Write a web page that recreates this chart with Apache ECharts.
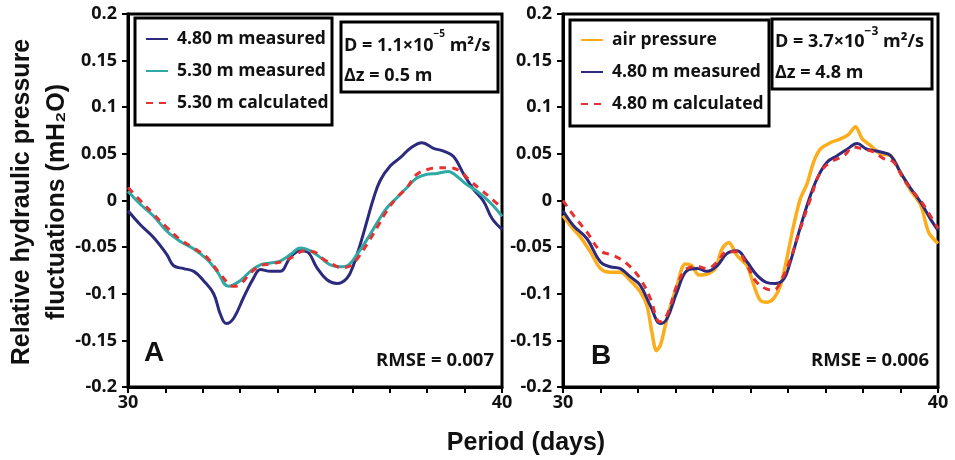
<!DOCTYPE html>
<html><head><meta charset="utf-8">
<script src="https://cdn.jsdelivr.net/npm/echarts@6/dist/echarts.min.js"></script>
<style>html,body{margin:0;padding:0;background:#fff}#c{width:955px;height:460px}</style>
</head><body><div id="c"></div>
<script>
// ---- Panel A data ----
var aDays480 = [30.00,30.33,30.69,31.04,31.22,31.49,31.76,32.02,32.29,32.47,32.63,32.83,33.09,33.36,33.54,33.81,34.07,34.34,34.61,34.79,35.05,35.32,35.59,35.86,36.03,36.21,36.39,36.57,36.75,37.01,37.28,37.55,37.86,38.17,38.44,38.71,38.98,39.24,39.51,39.73,40.00];
var aMeas480 = [-0.011,-0.026,-0.040,-0.058,-0.070,-0.073,-0.076,-0.086,-0.100,-0.122,-0.132,-0.126,-0.104,-0.083,-0.074,-0.076,-0.076,-0.061,-0.054,-0.055,-0.072,-0.085,-0.089,-0.083,-0.069,-0.047,-0.022,0.003,0.022,0.037,0.046,0.056,0.062,0.056,0.053,0.047,0.028,0.012,-0.001,-0.019,-0.031];
var aDays530 = [30.00,30.33,30.69,31.04,31.40,31.76,32.11,32.38,32.69,33.00,33.27,33.54,33.81,34.07,34.34,34.61,34.88,35.14,35.41,35.68,35.90,36.12,36.39,36.66,36.92,37.19,37.46,37.72,37.99,38.26,38.57,38.79,39.06,39.33,39.60,39.82,40.00];
var aMeas530 = [0.010,-0.004,-0.017,-0.033,-0.044,-0.052,-0.063,-0.076,-0.092,-0.086,-0.076,-0.069,-0.067,-0.065,-0.058,-0.051,-0.054,-0.061,-0.069,-0.071,-0.069,-0.058,-0.042,-0.024,-0.008,0.003,0.014,0.024,0.028,0.029,0.031,0.026,0.017,0.010,0.001,-0.008,-0.017];
var aDaysCalc = [30.00,30.33,30.69,31.04,31.40,31.76,32.11,32.47,32.83,33.00,33.27,33.54,33.81,34.16,34.43,34.70,34.96,35.23,35.50,35.68,35.95,36.12,36.39,36.66,36.92,37.19,37.46,37.72,37.99,38.26,38.62,38.89,39.15,39.42,39.69,40.00];
var aCalc530 = [0.014,0.000,-0.015,-0.029,-0.042,-0.051,-0.061,-0.079,-0.092,-0.090,-0.078,-0.070,-0.068,-0.065,-0.060,-0.054,-0.055,-0.063,-0.069,-0.072,-0.070,-0.063,-0.047,-0.029,-0.011,0.003,0.014,0.028,0.033,0.035,0.035,0.031,0.021,0.012,0.003,-0.008];

// ---- Panel B data ----
var bDaysAir = [30.00,30.20,30.46,30.73,31.00,31.26,31.53,31.80,32.06,32.24,32.37,32.49,32.60,32.77,33.04,33.26,33.44,33.62,33.84,34.06,34.24,34.42,34.64,34.91,35.09,35.26,35.44,35.62,35.80,35.97,36.15,36.33,36.51,36.68,36.86,37.13,37.40,37.62,37.80,37.98,38.20,38.47,38.74,39.00,39.27,39.54,39.75,40.00];
var bAir = [-0.016,-0.027,-0.039,-0.055,-0.073,-0.077,-0.077,-0.086,-0.098,-0.113,-0.141,-0.161,-0.155,-0.127,-0.091,-0.068,-0.070,-0.080,-0.079,-0.073,-0.052,-0.045,-0.059,-0.070,-0.091,-0.107,-0.109,-0.105,-0.091,-0.062,-0.027,0.002,0.018,0.041,0.055,0.062,0.066,0.071,0.079,0.066,0.059,0.050,0.048,0.030,0.011,-0.005,-0.034,-0.046];
var bDays480 = [30.00,30.28,30.64,31.00,31.26,31.53,31.80,32.06,32.33,32.60,32.77,33.04,33.31,33.58,33.84,34.11,34.37,34.64,34.91,35.17,35.44,35.66,35.89,36.06,36.24,36.51,36.77,37.04,37.31,37.58,37.84,38.11,38.47,38.74,39.00,39.27,39.54,39.80,40.00];
var bMeas480 = [-0.011,-0.027,-0.041,-0.066,-0.071,-0.073,-0.082,-0.091,-0.113,-0.132,-0.127,-0.098,-0.075,-0.073,-0.076,-0.070,-0.057,-0.054,-0.066,-0.080,-0.088,-0.089,-0.084,-0.066,-0.041,-0.005,0.023,0.041,0.048,0.055,0.061,0.055,0.052,0.048,0.030,0.013,-0.002,-0.020,-0.032];
var bDaysCalc = [30.00,30.28,30.64,31.00,31.35,31.71,32.06,32.33,32.58,32.77,33.04,33.31,33.58,33.84,34.11,34.37,34.64,34.91,35.17,35.44,35.62,35.84,36.06,36.33,36.60,36.86,37.13,37.49,37.75,38.02,38.28,38.55,38.82,39.08,39.35,39.62,40.00];
var bCalc480 = [0.000,-0.016,-0.034,-0.054,-0.059,-0.068,-0.084,-0.105,-0.130,-0.123,-0.091,-0.073,-0.071,-0.073,-0.066,-0.055,-0.055,-0.070,-0.088,-0.095,-0.096,-0.084,-0.063,-0.030,0.002,0.030,0.041,0.048,0.057,0.055,0.052,0.045,0.041,0.023,0.009,-0.005,-0.030];

var yTicks = [-0.2,-0.15,-0.1,-0.05,0,0.05,0.1,0.15,0.2];
var xLabels = [30, 40];

function pairs(xs, ys){ return xs.map(function(x,i){ return [x, ys[i]]; }); }

var C_NAVY = '#2c2a7c', C_TEAL = '#2fa9a5', C_RED = '#e5312f', C_ORANGE = '#fbad1b';
var FONT = '"Open Sans"';
var tickFont = {fontFamily:'Open Sans', fontWeight:'bold', fontSize:18, color:'#111'};

function xAxis(gi){
  return {type:'value', gridIndex:gi, min:30, max:40, interval:1,
    axisLine:{show:true, onZero:false, lineStyle:{color:'#000', width:3}},
    axisTick:{show:true, inside:false, length:6, lineStyle:{color:'#000', width:2}},
    splitLine:{show:false},
    axisLabel:Object.assign({margin:7, formatter:function(v){ return xLabels.indexOf(v)>=0 ? String(v) : ''; }}, tickFont)};
}
function yAxis(gi){
  return {type:'value', gridIndex:gi, min:-0.2, max:0.2, interval:0.05,
    axisLine:{show:true, onZero:false, lineStyle:{color:'#000', width:3}},
    axisTick:{show:true, inside:false, length:6, lineStyle:{color:'#000', width:2}},
    splitLine:{show:false},
    axisLabel:Object.assign({margin:11, formatter:function(v){ return String(+v.toFixed(2)); }}, tickFont)};
}
var legText = {fontFamily:'Open Sans', fontWeight:'bold', fontSize:17.5, color:'#111', padding:[0,0,0,4]};

var chart = echarts.init(document.getElementById('c'));
chart.setOption({
  animation:false,
  backgroundColor:'#fff',
  grid:[
    {left:128, top:14, width:374, height:373, show:true, borderColor:'#000', borderWidth:3, backgroundColor:'transparent'},
    {left:563, top:14, width:375, height:373, show:true, borderColor:'#000', borderWidth:3, backgroundColor:'transparent'}
  ],
  xAxis:[xAxis(0), xAxis(1)],
  yAxis:[yAxis(0), yAxis(1)],
  legend:[
    {orient:'vertical', left:140, top:25, itemWidth:22, itemHeight:10, itemGap:14, textStyle:legText,
     itemStyle:{opacity:0},
     data:['4.80 m measured','5.30 m measured','5.30 m calculated']},
    {orient:'vertical', left:575, top:26, itemWidth:22, itemHeight:10, itemGap:14, textStyle:legText,
     itemStyle:{opacity:0},
     data:['air pressure','4.80 m measured ','4.80 m calculated']}
  ],
  series:[
    {name:'4.80 m measured', type:'line', xAxisIndex:0, yAxisIndex:0, data:pairs(aDays480,aMeas480), smooth:0.4, symbol:'none', lineStyle:{color:C_NAVY, width:3}, itemStyle:{color:C_NAVY}},
    {name:'5.30 m measured', type:'line', xAxisIndex:0, yAxisIndex:0, data:pairs(aDays530,aMeas530), smooth:0.4, symbol:'none', lineStyle:{color:C_TEAL, width:3}, itemStyle:{color:C_TEAL}},
    {name:'5.30 m calculated', type:'line', xAxisIndex:0, yAxisIndex:0, data:pairs(aDaysCalc,aCalc530), smooth:0.4, symbol:'none', lineStyle:{color:C_RED, width:3, type:[7,6]}, itemStyle:{color:C_RED}},
    {name:'air pressure', type:'line', xAxisIndex:1, yAxisIndex:1, data:pairs(bDaysAir,bAir), smooth:0.3, symbol:'none', lineStyle:{color:C_ORANGE, width:3.5}, itemStyle:{color:C_ORANGE}},
    {name:'4.80 m measured ', type:'line', xAxisIndex:1, yAxisIndex:1, data:pairs(bDays480,bMeas480), smooth:0.4, symbol:'none', lineStyle:{color:C_NAVY, width:3}, itemStyle:{color:C_NAVY}},
    {name:'4.80 m calculated', type:'line', xAxisIndex:1, yAxisIndex:1, data:pairs(bDaysCalc,bCalc480), smooth:0.4, symbol:'none', lineStyle:{color:C_RED, width:3, type:[7,6]}, itemStyle:{color:C_RED}}
  ],
  graphic:[
    {type:'rect', shape:{x:135, y:18, width:197, height:107}, style:{fill:'transparent', stroke:'#000', lineWidth:3}, z:50},
    {type:'rect', shape:{x:341, y:22, width:157, height:70}, style:{fill:'#fff', stroke:'#000', lineWidth:3}, z:50},
    {type:'text', left:344, top:29, z:51, style:{text:'{n|D = 1.1×10}{s|−5}{n| m²/s}\n{n|Δz = 0.5 m}', rich:{n:{fontFamily:FONT, fontWeight:'bold', fontSize:18, lineHeight:30, fill:'#111'}, s:{fontFamily:FONT, fontWeight:'bold', fontSize:10, lineHeight:30, fill:'#111', verticalAlign:'top', padding:[-2,0,0,0]}}}},
    {type:'rect', shape:{x:570, y:20, width:199, height:106}, style:{fill:'transparent', stroke:'#000', lineWidth:3}, z:50},
    {type:'rect', shape:{x:772, y:19, width:160, height:70}, style:{fill:'#fff', stroke:'#000', lineWidth:3}, z:50},
    {type:'text', left:775, top:26, z:51, style:{text:'{n|D = 3.7×10}{s|−3}{n| m²/s}\n{n|Δz = 4.8 m}', rich:{n:{fontFamily:FONT, fontWeight:'bold', fontSize:18, lineHeight:31, fill:'#111'}, s:{fontFamily:FONT, fontWeight:'bold', fontSize:12, lineHeight:31, fill:'#111', verticalAlign:'top'}}}},
    {type:'text', left:144, top:339, z:51, style:{text:'A', font:'bold 28px "Liberation Sans"', fill:'#111'}},
    {type:'text', left:591, top:342, z:51, style:{text:'B', font:'bold 28px "Liberation Sans"', fill:'#111'}},
    {type:'text', right:955-494, top:351, z:51, style:{text:'RMSE = 0.007', font:'bold 18.5px "Open Sans"', fill:'#111'}},
    {type:'text', right:955-929, top:351, z:51, style:{text:'RMSE = 0.006', font:'bold 18.5px "Open Sans"', fill:'#111'}},
    {type:'text', x:526, y:443, z:51, style:{text:'Period (days)', font:'bold 25px "Liberation Sans"', fill:'#111', textAlign:'center', textVerticalAlign:'middle'}},
    {type:'text', x:22, y:202, rotation:Math.PI/2, z:51, style:{text:'Relative hydraulic pressure', font:'bold 25px "Liberation Sans"', fill:'#111', textAlign:'center', textVerticalAlign:'middle'}},
    {type:'text', x:57, y:202, rotation:Math.PI/2, z:51, style:{text:'fluctuations (mH₂O)', font:'bold 25px "Liberation Sans"', fill:'#111', textAlign:'center', textVerticalAlign:'middle'}}
  ]
});
</script></body></html>
